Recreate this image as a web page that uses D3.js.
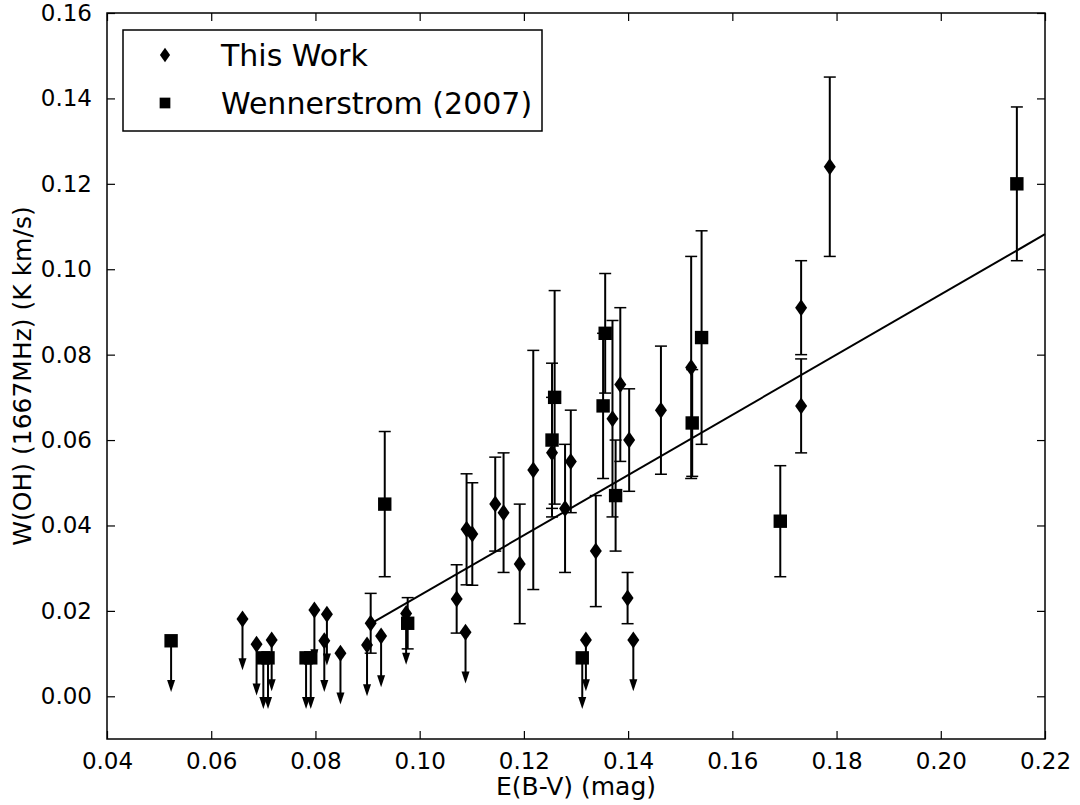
<!DOCTYPE html>
<html>
<head>
<meta charset="utf-8">
<script src="https://cdn.jsdelivr.net/npm/d3@7"></script>
<style>
  body { margin: 0; background: #fff; }
  text { font-family: 'DejaVu Sans', sans-serif; fill: #000; }
</style>
</head>
<body>
<div id="chart"></div>
<script>
// This Work: detections [E(B-V), W(OH), error]
const thisWork = [
  [0.0906, 0.0171, 0.007],
  [0.1071, 0.0228, 0.008],
  [0.1090, 0.0391, 0.013],
  [0.1101, 0.0380, 0.012],
  [0.1145, 0.0450, 0.011],
  [0.1161, 0.0430, 0.014],
  [0.1192, 0.0310, 0.014],
  [0.1218, 0.0530, 0.028],
  [0.1254, 0.0570, 0.013],
  [0.1279, 0.0440, 0.015],
  [0.1290, 0.0550, 0.012],
  [0.1338, 0.0340, 0.013],
  [0.1370, 0.0650, 0.023],
  [0.1385, 0.0730, 0.018],
  [0.1399, 0.0230, 0.006],
  [0.1402, 0.0600, 0.012],
  [0.1463, 0.0670, 0.015],
  [0.1521, 0.0770, 0.026],
  [0.1732, 0.0910, 0.011],
  [0.1732, 0.0680, 0.011],
  [0.1787, 0.1240, 0.021]
]

// This Work: upper limits [E(B-V), W(OH)]
const thisWorkLimits = [
  [0.0660, 0.0181],
  [0.0687, 0.0122],
  [0.0716, 0.0132],
  [0.0798, 0.0202],
  [0.0817, 0.0130],
  [0.0822, 0.0192],
  [0.0848, 0.0101],
  [0.0899, 0.0120],
  [0.0926, 0.0141],
  [0.0974, 0.0194],
  [0.1088, 0.0150],
  [0.1319, 0.0132],
  [0.1410, 0.0132]
]

// Wennerstrom (2007): detections
const wenn = [
  [0.0933, 0.0450, 0.017],
  [0.0977, 0.0171, 0.006],
  [0.1254, 0.0600, 0.018],
  [0.1259, 0.0700, 0.025],
  [0.1352, 0.0680, 0.017],
  [0.1356, 0.0850, 0.014],
  [0.1376, 0.0470, 0.013],
  [0.1523, 0.0640, 0.0125],
  [0.1541, 0.0840, 0.025],
  [0.1692, 0.0410, 0.013],
  [0.2146, 0.1200, 0.018]
]

// Wennerstrom (2007): upper limits
const wennLimits = [
  [0.0523, 0.0130],
  [0.0700, 0.0090],
  [0.0709, 0.0090],
  [0.0782, 0.0090],
  [0.0791, 0.0090],
  [0.1312, 0.0090]
]

// fitted line end points
const fitLine = [[0.0912, 0.0174], [0.22, 0.1082]]

const xTicks = [0.04, 0.06, 0.08, 0.10, 0.12, 0.14, 0.16, 0.18, 0.20, 0.22]
const yTicks = [0.00, 0.02, 0.04, 0.06, 0.08, 0.10, 0.12, 0.14, 0.16]
const limitLength = 0.012

let margin = { top: 13, left: 107, right: 35, bottom: 66 }
let width = 1080 - margin.left - margin.right
let height = 805 - margin.top - margin.bottom

const svg = d3
  .select('#chart')
  .append('svg')
  .attr('width', 1080)
  .attr('height', 805)
  .append('g')
  .attr('transform', 'translate(' + margin.left + ',' + margin.top + ')')

var x = d3.scaleLinear().domain([0.04, 0.22]).range([0, width])
var y = d3.scaleLinear().domain([-0.01, 0.16]).range([height, 0])

// ticks pointing inward on all four sides
svg.append('g')
  .attr('transform', 'translate(0,' + height + ')')
  .call(d3.axisBottom(x).tickValues(xTicks).tickSizeInner(-8).tickSizeOuter(0).tickPadding(14).tickFormat(d3.format('.2f')))
svg.append('g')
  .call(d3.axisTop(x).tickValues(xTicks).tickSizeInner(-8).tickSizeOuter(0).tickFormat(''))
svg.append('g')
  .call(d3.axisLeft(y).tickValues(yTicks).tickSizeInner(-8).tickSizeOuter(0).tickPadding(15).tickFormat(d3.format('.2f')))
svg.append('g')
  .attr('transform', 'translate(' + width + ',0)')
  .call(d3.axisRight(y).tickValues(yTicks).tickSizeInner(-8).tickSizeOuter(0).tickFormat(''))

svg.selectAll('.domain').remove()
svg.selectAll('.tick line').attr('stroke', '#000').attr('stroke-width', 1.2)
svg.selectAll('.tick text').style('font-size', '23px').style('font-family', 'DejaVu Sans')

svg.append('rect')
  .attr('width', width)
  .attr('height', height)
  .attr('fill', 'none')
  .attr('stroke', '#000')
  .attr('stroke-width', 1.5)

// axis labels
svg.append('text')
  .attr('x', width / 2)
  .attr('y', height + 56)
  .attr('text-anchor', 'middle')
  .style('font-size', '25px')
  .text('E(B-V) (mag)')

svg.append('text')
  .attr('transform', 'translate(-76,' + height / 2 + ') rotate(-90)')
  .attr('text-anchor', 'middle')
  .style('font-size', '25px')
  .text('W(OH) (1667MHz) (K km/s)')

// fit line
svg.append('path')
  .datum(fitLine)
  .attr('fill', 'none')
  .attr('stroke', '#000')
  .attr('stroke-width', 2)
  .attr('d', d3.line().x(d => x(d[0])).y(d => y(d[1])))

const diamond = 'M0,-8.5L6,0L0,8.5L-6,0Z'
const square = 'M-6.7,-6.7H6.7V6.7H-6.7Z'

function drawSeries(points, limits, shape) {
  var g = svg.append('g')

  // error bars
  points.forEach(function(d) {
    var px = x(d[0])
    g.append('line')
      .attr('x1', px).attr('x2', px)
      .attr('y1', y(d[1] - d[2])).attr('y2', y(d[1] + d[2]))
      .attr('stroke', '#000').attr('stroke-width', 2)
    ;[d[1] - d[2], d[1] + d[2]].forEach(function(v) {
      g.append('line')
        .attr('x1', px - 6).attr('x2', px + 6)
        .attr('y1', y(v)).attr('y2', y(v))
        .attr('stroke', '#000').attr('stroke-width', 1.5)
    })
  })

  // arrows for the upper limits
  limits.forEach(function(d) {
    var px = x(d[0])
    var tip = y(d[1] - limitLength)
    g.append('line')
      .attr('x1', px).attr('x2', px)
      .attr('y1', y(d[1])).attr('y2', tip - 6)
      .attr('stroke', '#000').attr('stroke-width', 2)
    g.append('path')
      .attr('d', 'M' + (px - 4) + ',' + (tip - 12) + 'L' + (px + 4) + ',' + (tip - 12) + 'L' + px + ',' + tip + 'Z')
      .attr('fill', '#000')
  })

  g.selectAll('.marker')
    .data(points.concat(limits))
    .enter()
    .append('path')
    .attr('class', 'marker')
    .attr('d', shape)
    .attr('transform', d => 'translate(' + x(d[0]) + ',' + y(d[1]) + ')')
    .attr('fill', '#000')
}

drawSeries(thisWork, thisWorkLimits, diamond)
drawSeries(wenn, wennLimits, square)

// legend
var legend = svg.append('g').attr('transform', 'translate(16,17)')
legend.append('rect')
  .attr('width', 419)
  .attr('height', 101)
  .attr('fill', '#fff')
  .attr('stroke', '#000')
  .attr('stroke-width', 1.5)

var legendItems = [['This Work', diamond], ['Wennerstrom (2007)', square]]
legend.selectAll('.item')
  .data(legendItems)
  .enter()
  .append('g')
  .attr('class', 'item')
  .attr('transform', (d, i) => 'translate(0,' + (25 + i * 48) + ')')
  .each(function(d) {
    d3.select(this).append('path')
      .attr('d', d[1])
      .attr('transform', 'translate(42,0) scale(' + (d[1] === diamond ? 0.85 : 0.8) + ')')
      .attr('fill', '#000')
    d3.select(this).append('text')
      .attr('x', 98)
      .attr('y', 11)
      .style('font-size', '30px')
      .text(d[0])
  })
</script>
</body>
</html>
